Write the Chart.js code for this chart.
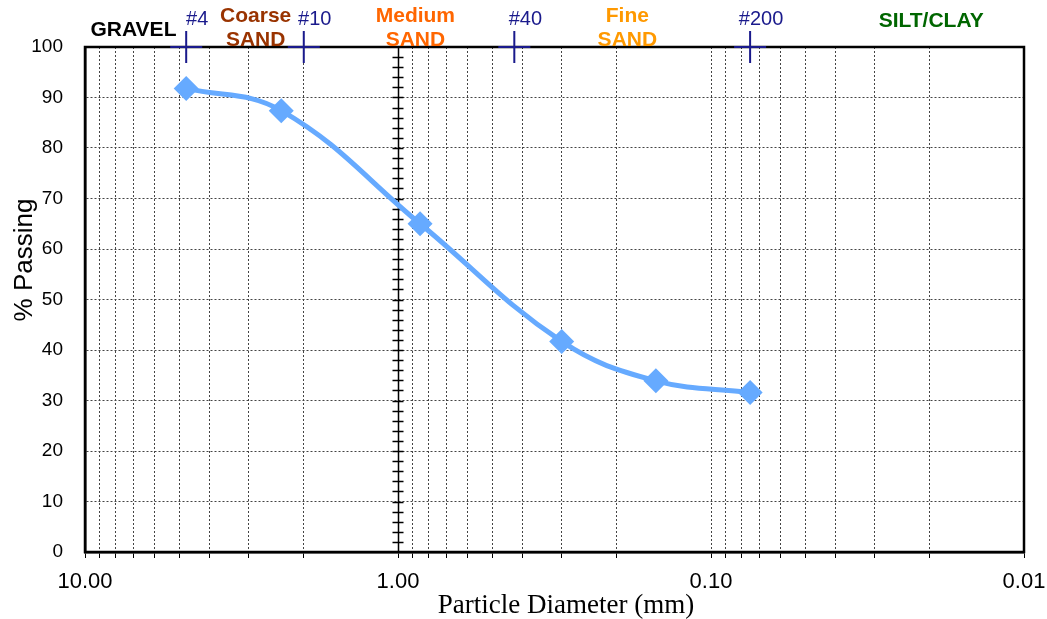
<!DOCTYPE html>
<html>
<head>
<meta charset="utf-8">
<script src="https://cdn.jsdelivr.net/npm/chart.js@4.4.1/dist/chart.umd.min.js"></script>
<style>
  html, body { margin: 0; padding: 0; background: #fff; }
  #wrap { width: 1047px; height: 619px; position: relative; }
</style>
</head>
<body>
<div id="wrap"><canvas id="chartCanvas"></canvas></div>
<script>
    /********** DATA **********/
    // sieve sizes (mm) and % passing
    const particleSizes = [4.75, 2.36, 0.85, 0.30, 0.15, 0.075];
    const percentPassing = [91.8, 87.4, 65.0, 41.7, 33.9, 31.6];

    // sieve markers shown at the top edge
    const sieveSizes = [4.75, 2.0, 0.425, 0.075];
    const sieveNames = ["#4", "#10", "#40", "#200"];

    // soil classes printed above the plot
    const soilNames = [["GRAVEL"], ["Coarse", "SAND"], ["Medium", "SAND"], ["Fine", "SAND"], ["SILT/CLAY"]];
    const soilCentres = [7.0, 2.85, 0.88, 0.185, 0.0198];
    const soilColours = ["#000000", "#993300", "#FF6600", "#FF9900", "#006600"];

    const decadeLabels = [10, 1, 0.1, 0.01];
    const xTitle = "Particle Diameter (mm)";
    const yTitle = "% Passing";

    /********** STYLE **********/
    const FONT = "'Liberation Sans', Arial, sans-serif";
    const SERIF = "'Liberation Serif', 'Times New Roman', serif";
    const LINE_BLUE = "#66AAFF";
    const NAVY = "#1A1A8C";

    // every 1..9 x 10^n tick between 0.01 and 10
    function logTicks() {
      const out = [];
      for (let e = -2; e <= 0; e++) {
        for (let m = 1; m <= 9; m++) out.push(+(m * Math.pow(10, e)).toPrecision(3));
      }
      out.push(10);
      return out.map(v => ({ value: v }));
    }

    function isDecade(v) {
      return decadeLabels.some(d => Math.abs(d - v) < 1e-9);
    }

    /********** OVERLAY PLUGIN **********/
    const overlay = {
      id: "overlay",
      beforeDatasetsDraw(chart) {
        const { ctx, chartArea: a, scales: { x, y } } = chart;
        ctx.save();
        // frame
        ctx.strokeStyle = "#000";
        ctx.lineWidth = 2.5;
        ctx.strokeRect(a.left, a.top, a.right - a.left, a.bottom - a.top);

        // solid axis at 1.00 mm with small cross ticks
        const px = Math.round(x.getPixelForValue(1)) + 0.5;
        ctx.lineWidth = 1.5;
        ctx.beginPath();
        ctx.moveTo(px, a.top);
        ctx.lineTo(px, a.bottom);
        for (let v = 2; v < 100; v += 2) {
          const py = Math.round(y.getPixelForValue(v)) + 0.5;
          ctx.moveTo(px - 6, py);
          ctx.lineTo(px + 5, py);
        }
        ctx.stroke();
        ctx.restore();
      },
      afterDraw(chart) {
        const { ctx, scales: { x } } = chart;
        ctx.save();

        // axis titles
        ctx.fillStyle = "#000";
        ctx.textAlign = "center";
        ctx.textBaseline = "alphabetic";
        ctx.font = "27px " + SERIF;
        ctx.fillText(xTitle, 566, 613);
        ctx.save();
        ctx.translate(32, 260);
        ctx.rotate(-Math.PI / 2);
        ctx.font = "26px " + FONT;
        ctx.fillText(yTitle, 0, 0);
        ctx.restore();

        // soil class names
        ctx.textBaseline = "middle";
        ctx.font = "bold 21px " + FONT;
        soilNames.forEach((lines, i) => {
          const cx = x.getPixelForValue(soilCentres[i]);
          ctx.fillStyle = soilColours[i];
          if (lines.length === 1) {
            ctx.fillText(lines[0], cx, i === 0 ? 30 : 21);
          } else {
            ctx.fillText(lines[0], cx, 16);
            ctx.fillText(lines[1], cx, 40);
          }
        });

        // sieve numbers
        ctx.font = "20px " + FONT;
        ctx.fillStyle = NAVY;
        sieveSizes.forEach((s, i) => {
          ctx.fillText(sieveNames[i], x.getPixelForValue(s) + 11, 19);
        });
        ctx.restore();
      }
    };

    /********** CHART **********/
    const ctx = document.getElementById("chartCanvas").getContext("2d");
    new Chart(ctx, {
      type: "line",
      data: {
        datasets: [
          {
            label: "Gradation",
            data: particleSizes.map((d, i) => ({ x: d, y: percentPassing[i] })),
            borderColor: LINE_BLUE,
            backgroundColor: LINE_BLUE,
            borderWidth: 5,
            tension: 0.4,
            pointStyle: "rectRot",
            pointRadius: 12.5,
            pointBorderWidth: 0,
            fill: false
          },
          {
            label: "Sieves",
            data: sieveSizes.map(s => ({ x: s, y: 100 })),
            showLine: false,
            borderColor: NAVY,
            backgroundColor: NAVY,
            pointStyle: "cross",
            pointRadius: 16,
            pointBorderWidth: 2,
            clip: false
          }
        ]
      },
      options: {
        responsive: true,
        maintainAspectRatio: false,
        animation: false,
        parsing: false,
        layout: { padding: { top: 47, right: 23, bottom: 0, left: 0 } },
        plugins: {
          legend: { display: false },
          tooltip: { enabled: false }
        },
        scales: {
          x: {
            type: "logarithmic",
            min: 0.01,
            max: 10,
            reverse: true,
            afterBuildTicks: scale => { scale.ticks = logTicks(); },
            afterFit: scale => { scale.height = 67; },
            ticks: {
              autoSkip: false,
              maxRotation: 0,
              padding: 11,
              color: "#000",
              font: { family: FONT, size: 22 },
              callback: v => (isDecade(v) ? v.toFixed(2) : "")
            },
            grid: {
              color: "#444",
              lineWidth: 1,
              drawTicks: true,
              tickLength: 6,
              tickColor: "#000",
              tickWidth: 1,
              tickBorderDash: []
            },
            border: { display: true, color: "#000", width: 2.5, dash: [2, 2] },
            title: { display: false }
          },
          y: {
            min: 0,
            max: 100,
            afterFit: scale => { scale.width = 85; },
            ticks: {
              stepSize: 10,
              padding: 22,
              color: "#000",
              font: { family: FONT, size: 19 }
            },
            grid: { color: "#444", lineWidth: 1, drawTicks: false },
            border: { display: true, color: "#000", width: 2.5, dash: [2, 2] },
            title: { display: false }
          }
        }
      },
      plugins: [overlay]
    });
</script>
</body>
</html>
